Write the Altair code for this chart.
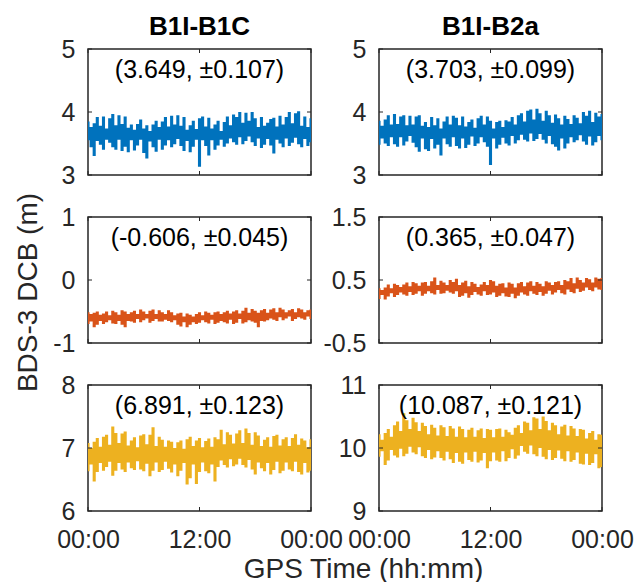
import altair as alt
import pandas as pd

# Sample times in hours (20-minute spacing over one day)
hours = [i / 3 for i in range(73)]

x_tick_values = [0, 12, 24]
x_tick_labels = ["00:00", "12:00", "00:00"]

column_titles = ["B1I-B1C", "B1I-B2a"]

# Upper / lower envelopes of the DCB noise band for each panel (m)
b1c_top_hi = [3.85, 3.76, 3.82, 3.92, 3.78, 3.93, 3.74, 3.90, 3.97, 3.79, 3.95, 3.81, 3.93,
              3.75, 3.80, 3.72, 3.81, 3.88, 3.74, 3.79, 3.70, 3.80, 3.86, 3.76, 3.85,
              3.92, 3.77, 3.94, 3.80, 3.95, 3.78, 3.92, 3.72, 3.79, 3.86, 3.73,
              3.90, 3.93, 3.77, 3.91, 3.74, 3.80, 3.86, 3.70, 3.84, 3.93, 3.79, 3.96, 3.92,
              4.00, 3.83, 3.99, 3.86, 4.00, 3.90, 3.76, 3.92, 3.78, 3.83, 3.89,
              3.91, 3.77, 3.94, 3.80, 3.92, 4.00, 3.82, 3.98, 4.01, 3.78, 3.93, 3.76, 3.90]
b1c_top_lo = [3.55, 3.44, 3.30, 3.54, 3.48, 3.40, 3.56, 3.51, 3.44, 3.40, 3.56, 3.38, 3.45,
              3.36, 3.55, 3.39, 3.47, 3.56, 3.35, 3.26, 3.53, 3.44, 3.37, 3.56, 3.40,
              3.47, 3.55, 3.44, 3.49, 3.57, 3.46, 3.38, 3.54, 3.36, 3.45, 3.56,
              3.13, 3.55, 3.46, 3.31, 3.55, 3.40, 3.47, 3.56, 3.45, 3.50, 3.58, 3.52, 3.48,
              3.60, 3.49, 3.54, 3.61, 3.52, 3.46, 3.58, 3.43, 3.48, 3.57, 3.47,
              3.34, 3.56, 3.50, 3.44, 3.58, 3.46, 3.51, 3.59, 3.49, 3.44, 3.57, 3.46, 3.52]

b2a_top_hi = [3.86, 3.78, 3.88, 3.95, 3.80, 3.97, 3.81, 3.93, 3.95, 3.79, 3.94, 3.80, 3.93,
              3.95, 3.78, 3.84, 3.76, 3.92, 3.79, 3.90, 3.74, 3.85, 3.93, 3.80, 3.94,
              3.91, 3.79, 3.93, 3.77, 3.84, 3.88, 3.75, 3.90, 3.94, 3.80, 3.93,
              3.86, 3.74, 3.84, 3.86, 3.76, 3.87, 3.85, 3.92, 3.80, 3.95, 3.98, 3.85, 4.02,
              4.04, 3.88, 4.05, 3.98, 3.86, 4.02, 3.95, 3.83, 3.96, 3.90, 3.80,
              3.94, 3.89, 3.81, 3.95, 3.91, 3.82, 4.00, 3.94, 4.02, 3.84, 3.99, 3.93, 3.97]
b2a_top_lo = [3.48, 3.58, 3.50, 3.46, 3.60, 3.49, 3.45, 3.60, 3.47, 3.53, 3.62, 3.51, 3.44,
              3.37, 3.58, 3.41, 3.38, 3.57, 3.42, 3.48, 3.31, 3.58, 3.49, 3.45, 3.60,
              3.46, 3.42, 3.58, 3.43, 3.48, 3.61, 3.46, 3.50, 3.60, 3.52, 3.45,
              3.16, 3.58, 3.42, 3.48, 3.59, 3.50, 3.47, 3.62, 3.50, 3.55, 3.64, 3.56, 3.53,
              3.66, 3.54, 3.57, 3.65, 3.56, 3.50, 3.62, 3.49, 3.45, 3.39, 3.58,
              3.42, 3.50, 3.60, 3.52, 3.55, 3.63, 3.53, 3.48, 3.61, 3.47, 3.52, 3.62, 3.55]

b1c_mid_hi = [-0.51, -0.54, -0.52, -0.50, -0.55, -0.53, -0.50, -0.56, -0.49, -0.51, -0.55, -0.48, -0.50,
              -0.54, -0.51, -0.49, -0.54, -0.47, -0.50, -0.54, -0.49, -0.47, -0.54, -0.48, -0.51,
              -0.54, -0.48, -0.51, -0.56, -0.53, -0.52, -0.58, -0.53, -0.55, -0.58, -0.54,
              -0.51, -0.56, -0.50, -0.52, -0.55, -0.51, -0.50, -0.54, -0.51, -0.49, -0.53, -0.50, -0.48,
              -0.53, -0.49, -0.44, -0.52, -0.46, -0.49, -0.52, -0.48, -0.46, -0.52, -0.47,
              -0.45, -0.51, -0.44, -0.47, -0.51, -0.48, -0.46, -0.51, -0.45, -0.47, -0.51, -0.48, -0.47]
b1c_mid_lo = [-0.70, -0.66, -0.75, -0.71, -0.65, -0.70, -0.67, -0.64, -0.69, -0.70, -0.65, -0.71, -0.75,
              -0.65, -0.66, -0.68, -0.62, -0.67, -0.64, -0.61, -0.68, -0.65, -0.62, -0.66, -0.66,
              -0.63, -0.65, -0.67, -0.64, -0.71, -0.74, -0.67, -0.75, -0.71, -0.67, -0.70,
              -0.68, -0.64, -0.67, -0.69, -0.63, -0.70, -0.68, -0.65, -0.67, -0.69, -0.63, -0.70, -0.68,
              -0.62, -0.69, -0.67, -0.64, -0.66, -0.68, -0.75, -0.65, -0.66, -0.64, -0.61,
              -0.63, -0.65, -0.59, -0.64, -0.61, -0.58, -0.65, -0.62, -0.59, -0.61, -0.63, -0.58, -0.62]

b2a_mid_hi = [0.37, 0.34, 0.38, 0.43, 0.37, 0.44, 0.42, 0.39, 0.43, 0.46, 0.40, 0.47, 0.45,
              0.41, 0.46, 0.47, 0.41, 0.48, 0.54, 0.42, 0.49, 0.46, 0.42, 0.50, 0.47,
              0.52, 0.42, 0.46, 0.49, 0.40, 0.47, 0.44, 0.39, 0.43, 0.47, 0.42,
              0.50, 0.48, 0.41, 0.44, 0.45, 0.38, 0.46, 0.44, 0.38, 0.45, 0.47, 0.40, 0.46,
              0.48, 0.41, 0.47, 0.44, 0.40, 0.48, 0.46, 0.42, 0.47, 0.48, 0.42,
              0.50, 0.48, 0.53, 0.45, 0.54, 0.50, 0.46, 0.53, 0.51, 0.46, 0.54, 0.52, 0.53]
b2a_mid_lo = [0.20, 0.26, 0.19, 0.24, 0.29, 0.23, 0.26, 0.30, 0.27, 0.25, 0.31, 0.26, 0.28,
              0.32, 0.25, 0.28, 0.32, 0.29, 0.27, 0.34, 0.28, 0.29, 0.33, 0.30, 0.28,
              0.32, 0.23, 0.25, 0.29, 0.22, 0.26, 0.31, 0.27, 0.25, 0.32, 0.26,
              0.27, 0.30, 0.23, 0.25, 0.29, 0.24, 0.23, 0.28, 0.21, 0.25, 0.30, 0.27, 0.25,
              0.32, 0.28, 0.26, 0.31, 0.25, 0.28, 0.33, 0.27, 0.30, 0.34, 0.29,
              0.27, 0.35, 0.31, 0.29, 0.36, 0.31, 0.33, 0.38, 0.34, 0.32, 0.38, 0.35, 0.34]

b1c_bot_hi = [7.08, 7.00, 7.10, 7.16, 7.02, 7.18, 7.21, 7.05, 7.34, 7.24, 7.08, 7.23, 7.26,
              7.04, 7.12, 7.17, 7.01, 7.20, 7.22, 7.06, 7.21, 7.33, 7.03, 7.18, 7.13,
              7.02, 7.12, 7.10, 7.00, 7.09, 7.12, 6.99, 7.14, 7.18, 7.03, 7.12,
              7.16, 7.01, 7.11, 7.15, 7.02, 7.17, 7.14, 7.29, 7.06, 7.25, 7.21, 7.07, 7.23,
              7.28, 7.08, 7.31, 7.24, 7.05, 7.25, 7.20, 7.03, 7.13, 7.17, 7.02,
              7.19, 7.21, 7.04, 7.14, 7.17, 7.03, 7.16, 7.22, 7.05, 7.15, 7.12, 7.01, 7.14]
b1c_bot_lo = [6.63, 6.74, 6.47, 6.62, 6.76, 6.64, 6.70, 6.78, 6.56, 6.64, 6.76, 6.66, 6.62,
              6.77, 6.68, 6.65, 6.79, 6.66, 6.63, 6.75, 6.55, 6.64, 6.77, 6.62, 6.65,
              6.78, 6.67, 6.61, 6.74, 6.55, 6.64, 6.76, 6.42, 6.52, 6.74, 6.43,
              6.62, 6.77, 6.63, 6.60, 6.74, 6.47, 6.70, 6.80, 6.73, 6.69, 6.82, 6.71, 6.74,
              6.83, 6.73, 6.69, 6.81, 6.66, 6.58, 6.77, 6.68, 6.63, 6.76, 6.58,
              6.65, 6.78, 6.60, 6.64, 6.77, 6.66, 6.63, 6.78, 6.62, 6.58, 6.76, 6.61, 6.64]

b2a_bot_hi = [10.22, 10.13, 10.24, 10.30, 10.18, 10.36, 10.42, 10.27, 10.55, 10.44, 10.30, 10.48, 10.41,
              10.27, 10.40, 10.35, 10.22, 10.37, 10.32, 10.20, 10.36, 10.33, 10.19, 10.35, 10.31,
              10.18, 10.34, 10.30, 10.17, 10.29, 10.32, 10.18, 10.28, 10.31, 10.16, 10.30,
              10.29, 10.17, 10.30, 10.31, 10.18, 10.29, 10.25, 10.21, 10.32, 10.36, 10.24, 10.42, 10.40,
              10.28, 10.49, 10.47, 10.30, 10.50, 10.43, 10.28, 10.40, 10.36, 10.22, 10.34,
              10.37, 10.20, 10.35, 10.31, 10.19, 10.30, 10.29, 10.15, 10.24, 10.27, 10.13, 10.22, 10.21]
b2a_bot_lo = [9.86, 9.95, 9.73, 9.80, 9.97, 9.88, 9.85, 9.99, 9.87, 9.91, 10.02, 9.93, 9.90,
              10.01, 9.87, 9.84, 9.97, 9.82, 9.85, 9.95, 9.84, 9.80, 9.94, 9.82, 9.76,
              9.92, 9.78, 9.75, 9.93, 9.81, 9.78, 9.94, 9.77, 9.80, 9.92, 9.68,
              9.79, 9.93, 9.80, 9.78, 9.95, 9.79, 9.84, 9.98, 9.83, 9.88, 10.03, 9.94, 9.91,
              10.04, 9.90, 9.87, 10.00, 9.86, 9.82, 9.97, 9.81, 9.84, 9.96, 9.83,
              9.79, 9.95, 9.78, 9.81, 9.93, 9.75, 9.74, 9.91, 9.73, 9.76, 9.90, 9.68, 9.70]

# Mean and standard deviation printed in each panel (m)
dcb_mean = [3.649, 3.703, -0.606, 0.365, 6.891, 10.087]
dcb_std = [0.107, 0.099, 0.045, 0.047, 0.123, 0.121]

y_ticks = [[3, 4, 5], [3, 4, 5], [-1, 0, 1], [-0.5, 0.5, 1.5], [6, 7, 8], [9, 10, 11]]
y_tick_labels = [["3", "4", "5"], ["3", "4", "5"], ["-1", "0", "1"],
                 ["-0.5", "0.5", "1.5"], ["6", "7", "8"], ["9", "10", "11"]]

band_colors = ["#0072BD", "#0072BD", "#D95319", "#D95319", "#EDB120", "#EDB120"]

envelopes = [(b1c_top_hi, b1c_top_lo), (b2a_top_hi, b2a_top_lo),
             (b1c_mid_hi, b1c_mid_lo), (b2a_mid_hi, b2a_mid_lo),
             (b1c_bot_hi, b1c_bot_lo), (b2a_bot_hi, b2a_bot_lo)]

W, H = 223, 126
INK = "#262626"
FONT = "Liberation Sans"
TICK_FS = 25
TITLE_FS = 28
HEAD_FS = 26
TICK_LEN = 4


def label_expr(values, labels):
    expr = "''"
    for v, lab in reversed(list(zip(values, labels))):
        expr = f"abs(datum.value - ({v})) < 1e-6 ? '{lab}' : {expr}"
    return expr


def make_panel(k):
    row, col = divmod(k, 2)
    hi, lo = envelopes[k]
    df = pd.DataFrame({"t": hours, "hi": hi, "lo": lo})
    xs = alt.Scale(domain=[0, 24], nice=False, zero=False)
    ys = alt.Scale(domain=[y_ticks[k][0], y_ticks[k][-1]], nice=False, zero=False)

    if row == 2:
        xkw = dict(values=x_tick_values, labelExpr=label_expr(x_tick_values, x_tick_labels),
                   labelFlush=False, labelOverlap=False, ticks=False, tickSize=0,
                   domain=False, grid=False, labelFont=FONT, labelFontSize=TICK_FS,
                   labelColor=INK, labelPadding=16)
        if col == 0:
            xkw.update(title="GPS Time (hh:mm)", titleFont=FONT, titleFontSize=TITLE_FS,
                       titleFontWeight="normal", titleColor=INK, titleX=275, titleY=66,
                       titleBaseline="alphabetic", titleAlign="center")
        else:
            xkw.update(title=None)
        xaxis = alt.Axis(**xkw)
    else:
        xaxis = None

    ykw = dict(values=y_ticks[k], labelExpr=label_expr(y_ticks[k], y_tick_labels[k]),
               labelOverlap=False, labelFlush=False, ticks=False, tickSize=0, domain=False,
               grid=False, labelFont=FONT, labelFontSize=TICK_FS, labelColor=INK,
               labelPadding=13)
    if k == 2:
        ykw.update(title="BDS-3 DCB (m)", titleFont=FONT, titleFontSize=TITLE_FS,
                   titleFontWeight="normal", titleColor=INK, titleX=-52, titleY=H / 2 + 12,
                   titleAngle=270, titleBaseline="alphabetic", titleAlign="center")
    else:
        ykw.update(title=None)
    yaxis = alt.Axis(**ykw)

    band = alt.Chart(df).mark_area(color=band_colors[k], opacity=1, clip=True,
                                   interpolate="step").encode(
        x=alt.X("t:Q", scale=xs, axis=xaxis),
        y=alt.Y("hi:Q", scale=ys, axis=yaxis),
        y2="lo:Q",
    )

    # Inward tick marks on all four sides of the frame
    yt = alt.Chart(pd.DataFrame({"hi": y_ticks[k]}))
    xt = alt.Chart(pd.DataFrame({"t": x_tick_values}))
    ytick_l = yt.mark_rule(color=INK, strokeWidth=1).encode(
        y=alt.Y("hi:Q", scale=ys, axis=yaxis), x=alt.value(0), x2=alt.value(TICK_LEN))
    ytick_r = yt.mark_rule(color=INK, strokeWidth=1).encode(
        y=alt.Y("hi:Q", scale=ys, axis=yaxis), x=alt.value(W), x2=alt.value(W - TICK_LEN))
    xtick_t = xt.mark_rule(color=INK, strokeWidth=1).encode(
        x=alt.X("t:Q", scale=xs, axis=xaxis), y=alt.value(0), y2=alt.value(TICK_LEN))
    xtick_b = xt.mark_rule(color=INK, strokeWidth=1).encode(
        x=alt.X("t:Q", scale=xs, axis=xaxis), y=alt.value(H), y2=alt.value(H - TICK_LEN))

    note_text = f"({dcb_mean[k]:.3f}, \u00b1{dcb_std[k]:.3f})"
    note = alt.Chart(pd.DataFrame({"note": [note_text]})).mark_text(
        font=FONT, fontSize=TICK_FS, color="black", align="center", baseline="middle"
    ).encode(text="note:N", x=alt.value(W / 2), y=alt.value(21))

    layers = [band, ytick_l, ytick_r, xtick_t, xtick_b, note]
    if row == 0:
        head = alt.Chart(pd.DataFrame({"head": [column_titles[col]]})).mark_text(
            font=FONT, fontSize=HEAD_FS, fontWeight="bold", color="black",
            align="center", baseline="alphabetic"
        ).encode(text="head:N", x=alt.value(W / 2), y=alt.value(-14))
        layers.append(head)

    return alt.layer(*layers).properties(width=W, height=H)


chart = alt.concat(
    *[make_panel(k) for k in range(6)],
    columns=2,
    spacing={"row": 42, "column": 68},
    bounds="flush",
).properties(
    padding={"left": 13, "top": 13, "right": 5, "bottom": 2},
    background="white",
).configure_view(
    stroke=INK, strokeWidth=1.5
)

chart.save("out.html", embed_options={"renderer": "svg", "actions": False})
